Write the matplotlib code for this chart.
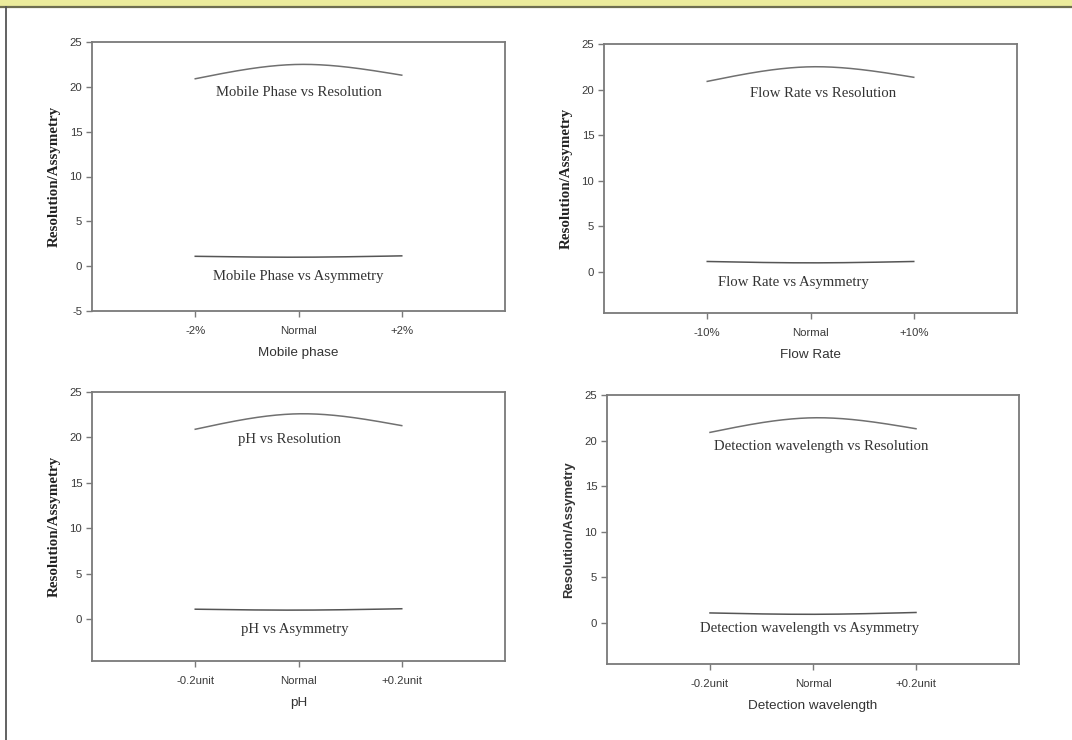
import numpy as np
import matplotlib
matplotlib.use("Agg")
import matplotlib.pyplot as plt
from matplotlib.patches import Rectangle
from matplotlib.lines import Line2D

plt.rcParams["axes.unicode_minus"] = False

# ---------------- data ----------------
mp_ticks = ["-2%", "Normal", "+2%"]
mp_resolution = [20.9, 22.5, 21.3]
mp_asymmetry = [1.1, 1.0, 1.15]

fr_ticks = ["-10%", "Normal", "+10%"]
fr_resolution = [20.9, 22.5, 21.35]
fr_asymmetry = [1.15, 1.0, 1.15]

ph_ticks = ["-0.2unit", "Normal", "+0.2unit"]
ph_resolution = [20.9, 22.6, 21.3]
ph_asymmetry = [1.1, 1.0, 1.15]

dw_ticks = ["-0.2unit", "Normal", "+0.2unit"]
dw_resolution = [20.9, 22.5, 21.3]
dw_asymmetry = [1.1, 0.95, 1.15]

W, H = 1072, 740
fig = plt.figure(figsize=(W / 100, H / 100), dpi=100)
fig.patch.set_facecolor("white")

# frame decorations
fig.patches.append(Rectangle((0, 1 - 6 / H), 1, 6 / H, transform=fig.transFigure,
                             facecolor="#ECEC9C", edgecolor="none", zorder=0))
fig.lines.append(Line2D([0, 1], [1 - 6.5 / H, 1 - 6.5 / H], transform=fig.transFigure,
                        color="#6E6E50", lw=1.6))
fig.lines.append(Line2D([5.5 / W, 5.5 / W], [0, 1 - 6.5 / H], transform=fig.transFigure,
                        color="#555555", lw=1.3))


def natural_spline(y, n=200):
    y = np.asarray(y, float)
    x = np.arange(len(y), dtype=float)
    k = len(y)
    A = np.zeros((k, k))
    b = np.zeros(k)
    A[0, 0] = A[-1, -1] = 1
    for i in range(1, k - 1):
        A[i, i - 1], A[i, i], A[i, i + 1] = 1, 4, 1
        b[i] = 6 * (y[i + 1] - 2 * y[i] + y[i - 1])
    M = np.linalg.solve(A, b)
    xs = np.linspace(0, k - 1, n)
    idx = np.clip(np.floor(xs).astype(int), 0, k - 2)
    t0 = x[idx]
    t1 = x[idx + 1]
    ys = (M[idx] * (t1 - xs) ** 3 / 6 + M[idx + 1] * (xs - t0) ** 3 / 6
          + (y[idx] - M[idx] / 6) * (t1 - xs) + (y[idx + 1] - M[idx + 1] / 6) * (xs - t0))
    return xs, ys


def panel(rect_px, ticks, res, asy, xlabel, ylim, yticks, res_txt, asy_txt,
          ylabel_serif=True, labelpad=8):
    x0, x1, y0, y1 = rect_px
    ax = fig.add_axes([x0 / W, 1 - y1 / H, (x1 - x0) / W, (y1 - y0) / H])
    for s in ax.spines.values():
        s.set_color("#7a7a7a")
        s.set_linewidth(1.3)
    xs, ys = natural_spline(res)
    ax.plot(xs, ys, color="#707070", lw=1.1)
    xs, ys = natural_spline(asy)
    ax.plot(xs, ys, color="#555555", lw=1.1)
    ax.set_xlim(-1, 3)
    ax.set_ylim(*ylim)
    ax.set_xticks(range(len(ticks)))
    ax.set_xticklabels(ticks)
    ax.set_yticks(yticks)
    ax.tick_params(direction="out", length=4.5, width=1, color="#7a7a7a",
                   labelsize=8.2, labelcolor="#3a3a3a", pad=2.5)
    ax.tick_params(axis="x", pad=6)
    for lab in ax.get_xticklabels() + ax.get_yticklabels():
        lab.set_family("Liberation Sans")
    ax.set_xlabel(xlabel, family="Liberation Sans", fontsize=9.7, color="#333333",
                  labelpad=labelpad)
    if ylabel_serif:
        ax.set_ylabel("Resolution/Assymetry", family="Liberation Serif", fontsize=10.8,
                      fontweight="bold", color="#222222", labelpad=6)
    else:
        ax.set_ylabel("Resolution/Assymetry", family="Liberation Sans", fontsize=9.4,
                      fontweight="bold", color="#333333", labelpad=7)
    for (tx, tyv, s) in (res_txt, asy_txt):
        ax.text(tx, tyv, s, family="Liberation Serif", fontsize=10.6, color="#333333",
                ha="center", va="center")
    return ax


panel((92, 505, 42, 311), mp_ticks, mp_resolution, mp_asymmetry, "Mobile phase",
      (-5, 25), [-5, 0, 5, 10, 15, 20, 25],
      (1.0, 19.4, "Mobile Phase vs Resolution"), (1.0, -1.1, "Mobile Phase vs Asymmetry"))
panel((604, 1017, 44, 313), fr_ticks, fr_resolution, fr_asymmetry, "Flow Rate",
      (-4.5, 25), [0, 5, 10, 15, 20, 25],
      (1.12, 19.6, "Flow Rate vs Resolution"), (0.83, -1.2, "Flow Rate vs Asymmetry"))
panel((92, 505, 392, 661), ph_ticks, ph_resolution, ph_asymmetry, "pH",
      (-4.6, 25), [0, 5, 10, 15, 20, 25],
      (0.91, 19.8, "pH vs Resolution"), (0.96, -1.1, "pH vs Asymmetry"))
panel((607, 1019, 395, 664), dw_ticks, dw_resolution, dw_asymmetry, "Detection wavelength",
      (-4.5, 25), [0, 5, 10, 15, 20, 25],
      (1.08, 19.3, "Detection wavelength vs Resolution"),
      (0.97, -0.66, "Detection wavelength vs Asymmetry"), ylabel_serif=False)

fig.savefig("out.png", dpi=100)
